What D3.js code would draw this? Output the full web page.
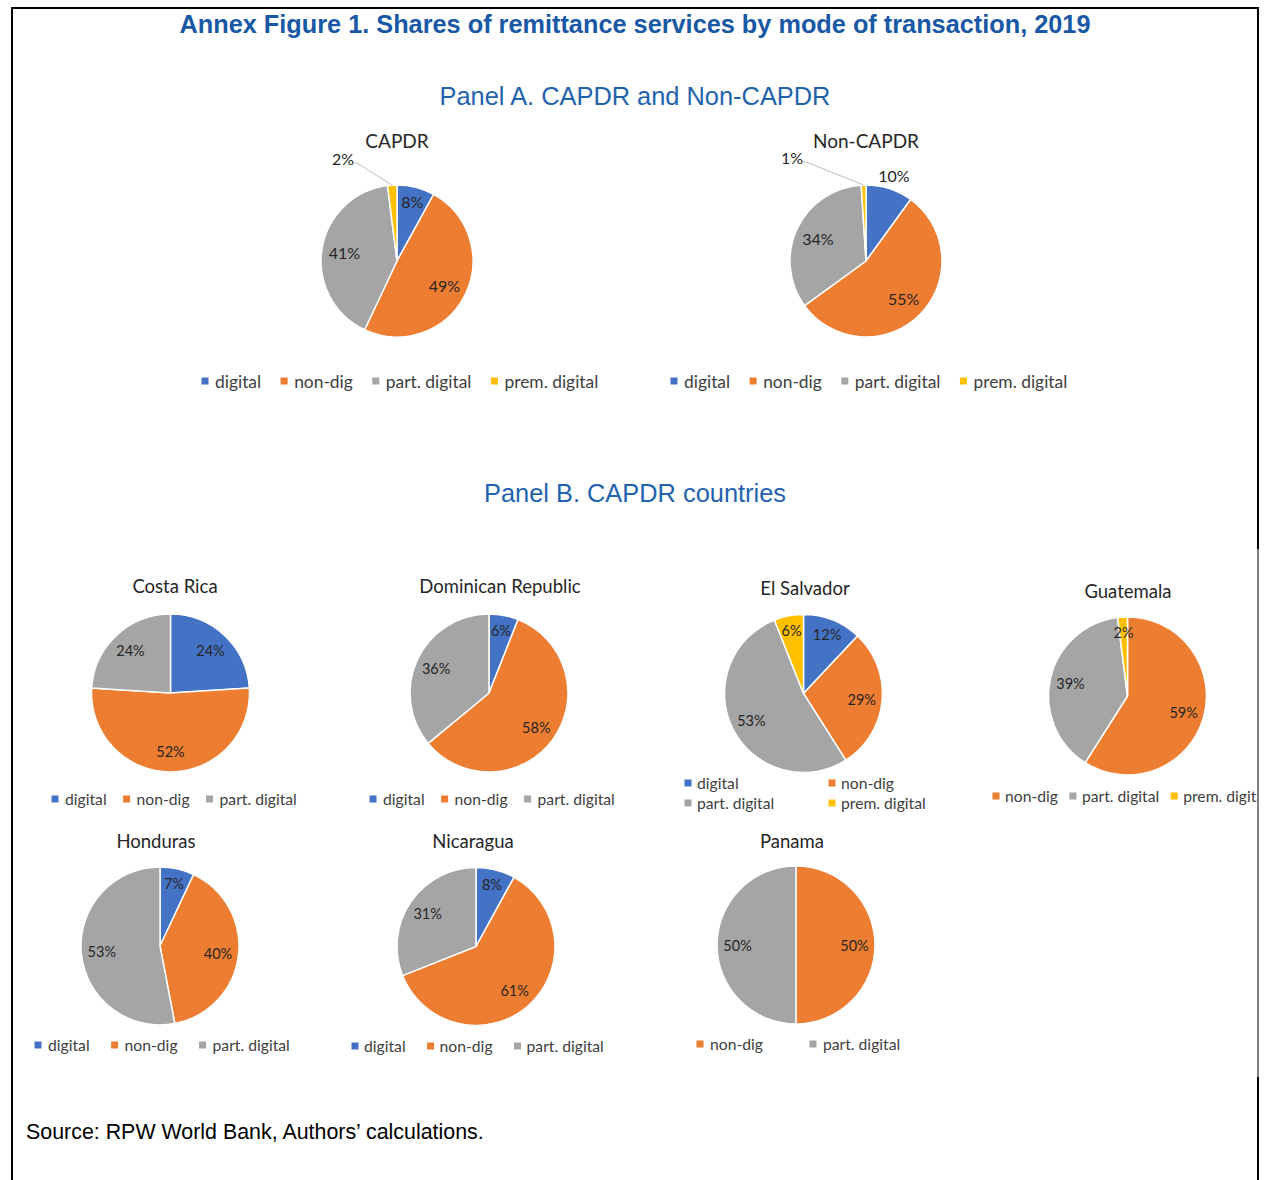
<!DOCTYPE html>
<html>
<head>
<meta charset="utf-8">
<script src="https://cdn.jsdelivr.net/npm/d3@7"></script>
<style>
body { margin: 0; background: #fff; }
svg { display: block; }
</style>
</head>
<body>
<div id="fig"></div>
<script>
// categories + colours (Office palette)
const categories = ["digital", "non-dig", "part. digital", "prem. digital"];
const catColors = ["#4472C4", "#ED7D31", "#A5A5A5", "#FFC000"];

// Panel A
const capdrCats = ["digital", "non-dig", "part. digital", "prem. digital"];
const capdrVals = [8, 49, 41, 2];
const nonCapdrCats = ["digital", "non-dig", "part. digital", "prem. digital"];
const nonCapdrVals = [10, 55, 34, 1];

// Panel B
const costaRicaCats = ["digital", "non-dig", "part. digital"];
const costaRicaVals = [24, 52, 24];
const dominicanCats = ["digital", "non-dig", "part. digital"];
const dominicanVals = [6, 58, 36];
const salvadorCats = ["digital", "non-dig", "part. digital", "prem. digital"];
const salvadorVals = [12, 29, 53, 6];
const guatemalaCats = ["non-dig", "part. digital", "prem. digital"];
const guatemalaVals = [59, 39, 2];
const hondurasCats = ["digital", "non-dig", "part. digital"];
const hondurasVals = [7, 40, 53];
const nicaraguaCats = ["digital", "non-dig", "part. digital"];
const nicaraguaVals = [8, 61, 31];
const panamaCats = ["non-dig", "part. digital"];
const panamaVals = [50, 50];

const FONT = "Lato, 'Noto Sans', sans-serif";
const ARIAL = "'Liberation Sans', Arial, sans-serif";

const color = d3.scaleOrdinal().domain(categories).range(catColors);

const svg = d3.select("#fig").append("svg")
  .attr("width", 1270)
  .attr("height", 1180);

// frame
svg.append("path")
  .attr("d", "M12,1182 V8 H1258 V549")
  .attr("fill", "none").attr("stroke", "#000").attr("stroke-width", 2);
svg.append("line")
  .attr("x1", 1258).attr("x2", 1258).attr("y1", 549).attr("y2", 1077)
  .attr("stroke", "#000").attr("stroke-width", 1);
svg.append("line")
  .attr("x1", 1258).attr("x2", 1258).attr("y1", 1077).attr("y2", 1182)
  .attr("stroke", "#000").attr("stroke-width", 2);

// headings
svg.append("text")
  .attr("x", 635).attr("y", 33)
  .attr("text-anchor", "middle")
  .style("font-family", ARIAL).style("font-weight", "bold").style("font-size", "25.3px")
  .style("fill", "#1858A5")
  .text("Annex Figure 1. Shares of remittance services by mode of transaction, 2019");

svg.append("text")
  .attr("x", 635).attr("y", 105)
  .attr("text-anchor", "middle")
  .style("font-family", ARIAL).style("font-size", "25.4px")
  .style("fill", "#1F63AD")
  .text("Panel A. CAPDR and Non-CAPDR");

svg.append("text")
  .attr("x", 635).attr("y", 502)
  .attr("text-anchor", "middle")
  .style("font-family", ARIAL).style("font-size", "25.4px")
  .style("fill", "#1F63AD")
  .text("Panel B. CAPDR countries");

svg.append("text")
  .attr("x", 26).attr("y", 1139)
  .style("font-family", ARIAL).style("font-size", "21.4px")
  .style("fill", "#000")
  .text("Source: RPW World Bank, Authors\u2019 calculations.");

// chart layouts
const charts = [
  {title: "CAPDR", cats: capdrCats, vals: capdrVals, cx: 397, cy: 261, r: 76,
   titleY: 148, titleSize: 19, labelSize: 16, legSize: 17.4, kBig: 0.7,
   legend: {x: 205, y: 381, gap: 23, tx: 10},
   lead: {3: [-54, -103]}},
  {title: "Non-CAPDR", cats: nonCapdrCats, vals: nonCapdrVals, cx: 866, cy: 261, r: 76,
   titleY: 148, titleSize: 19, labelSize: 16, legSize: 17.4, kBig: 0.7,
   legend: {x: 674, y: 381, gap: 23, tx: 10},
   out: [0], lead: {3: [-74, -104]}},
  {title: "Costa Rica", cats: costaRicaCats, vals: costaRicaVals, cx: 170.5, cy: 693, r: 79,
   titleX: 175, titleY: 593, titleSize: 18.5, labelSize: 14.5, legSize: 15.7,
   legend: {x: 55, y: 799, gap: 20, tx: 10}},
  {title: "Dominican Republic", cats: dominicanCats, vals: dominicanVals, cx: 489, cy: 693, r: 79,
   titleX: 500, titleY: 593, titleSize: 18.5, labelSize: 14.5, legSize: 15.7,
   legend: {x: 373, y: 799, gap: 20, tx: 10}},
  {title: "El Salvador", cats: salvadorCats, vals: salvadorVals, cx: 803.5, cy: 693.5, r: 79,
   titleX: 805, titleY: 595, titleSize: 18.5, labelSize: 14.5, legSize: 15.7,
   legend: {cols: [688, 832], rows: [783, 803], tx: 9}},
  {title: "Guatemala", cats: guatemalaCats, vals: guatemalaVals, cx: 1127.5, cy: 696, r: 79,
   titleX: 1128, titleY: 598, titleSize: 18.5, labelSize: 14.5, legSize: 15.7,
   legend: {x: 996, y: 796, gap: 15, tx: 9}, clip: true},
  {title: "Honduras", cats: hondurasCats, vals: hondurasVals, cx: 160, cy: 946, r: 79,
   titleX: 156, titleY: 848, titleSize: 18.5, labelSize: 14.5, legSize: 15.7,
   legend: {x: 38, y: 1045, gap: 25, tx: 10}},
  {title: "Nicaragua", cats: nicaraguaCats, vals: nicaraguaVals, cx: 476, cy: 946.5, r: 79,
   titleX: 473, titleY: 848, titleSize: 18.5, labelSize: 14.5, legSize: 15.7,
   legend: {x: 355, y: 1046, gap: 25, tx: 9}},
  {title: "Panama", cats: panamaCats, vals: panamaVals, cx: 796, cy: 945, r: 79,
   titleX: 792, titleY: 848, titleSize: 18.5, labelSize: 14.5, legSize: 15.7,
   legend: {x: 700, y: 1044, gap: 50, tx: 10}}
];

const defs = svg.append("defs");
defs.append("clipPath").attr("id", "clipRight")
  .append("rect").attr("x", 900).attr("y", 540).attr("width", 357).attr("height", 400);

charts.forEach(cfg => {
  const g = svg.append("g");
  if (cfg.clip) g.attr("clip-path", "url(#clipRight)");

  const data = cfg.cats.map((c, i) => ({cat: c, v: cfg.vals[i]}));
  const total = d3.sum(data, d => d.v);
  const arcs = d3.pie().sort(null).value(d => d.v)(data);
  const arc = d3.arc().innerRadius(0).outerRadius(cfg.r);

  const pie = g.append("g").attr("transform", `translate(${cfg.cx},${cfg.cy})`);
  pie.selectAll("path")
    .data(arcs)
    .join("path")
    .attr("d", arc)
    .attr("fill", d => color(d.data.cat))
    .attr("stroke", "#fff")
    .attr("stroke-width", 1.5);

  // data labels
  arcs.forEach((a, i) => {
    const mid = (a.startAngle + a.endAngle) / 2;
    const sx = Math.sin(mid), sy = -Math.cos(mid);
    let x, y;
    if (cfg.lead && cfg.lead[i]) {
      const [dx, dy] = cfg.lead[i];
      x = dx; y = dy;
      pie.append("polyline")
        .attr("points", [[sx * cfg.r, sy * cfg.r], [dx + 14, dy + 5], [dx + 11, dy + 5]].map(p => p.join(",")).join(" "))
        .attr("fill", "none").attr("stroke", "#BFBFBF").attr("stroke-width", 1);
    } else {
      let k = (a.data.v / total) < 0.15 ? 0.81 : (cfg.kBig || 0.74);
      if (cfg.out && cfg.out.includes(i)) k = 1.19;
      x = sx * k * cfg.r; y = sy * k * cfg.r;
    }
    pie.append("text")
      .attr("x", x).attr("y", y)
      .attr("text-anchor", "middle")
      .attr("dominant-baseline", "central")
      .style("font-family", FONT).style("font-size", cfg.labelSize + "px")
      .style("fill", "#262626")
      .text(a.data.v + "%");
  });

  // title
  g.append("text")
    .attr("x", cfg.titleX || cfg.cx).attr("y", cfg.titleY)
    .attr("text-anchor", "middle")
    .style("font-family", FONT).style("font-size", cfg.titleSize + "px")
    .style("fill", "#262626")
    .text(cfg.title);

  // legend
  const lg = cfg.legend;
  const item = (cat, sx, y) => {
    g.append("rect")
      .attr("x", sx - 3.5).attr("y", y - 3.5)
      .attr("width", 7).attr("height", 7)
      .attr("fill", color(cat));
    return g.append("text")
      .attr("x", sx + lg.tx).attr("y", y)
      .attr("dominant-baseline", "central")
      .style("font-family", FONT).style("font-size", cfg.legSize + "px")
      .style("fill", "#404040")
      .text(cat);
  };
  if (lg.cols) {
    cfg.cats.forEach((c, i) => item(c, lg.cols[i % 2], lg.rows[Math.floor(i / 2)]));
  } else {
    let sx = lg.x;
    cfg.cats.forEach(c => {
      const t = item(c, sx, lg.y);
      sx += lg.tx + t.node().getComputedTextLength() + lg.gap;
    });
  }
});
</script>
</body>
</html>
